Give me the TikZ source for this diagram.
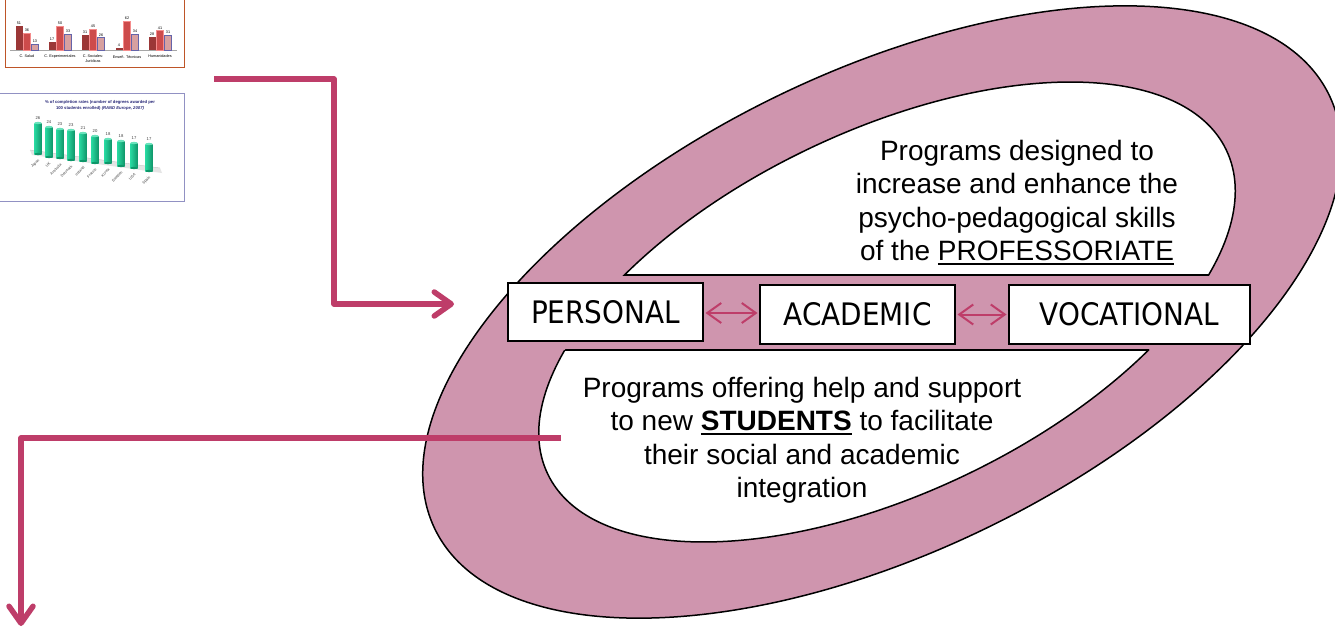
\documentclass[tikz,border=0pt]{standalone}
\usepackage{fontspec}
\setmainfont{Liberation Sans}
\newfontfamily\boxfont[FakeStretch=0.9]{DejaVu Sans}
\usetikzlibrary{arrows.meta,calc}
\newsavebox\myulbox
\newcommand\myul[1]{\sbox\myulbox{#1}\rlap{\rule[-4.5pt]{\wd\myulbox}{1.8pt}}\usebox\myulbox}
\definecolor{ringpink}{RGB}{207,149,174}
\definecolor{linkpink}{RGB}{190,61,105}
\definecolor{chartorange}{RGB}{190,85,40}
\definecolor{chartblue}{RGB}{145,145,195}
\definecolor{bardark}{RGB}{155,55,55}
\definecolor{barred}{RGB}{205,75,75}
\definecolor{barredrim}{RGB}{245,140,140}
\definecolor{barpink}{RGB}{215,160,160}
\definecolor{barpinkrim}{RGB}{100,100,170}
\definecolor{greenA}{RGB}{40,215,160}
\definecolor{greenB}{RGB}{15,150,105}
\definecolor{navy}{RGB}{40,40,120}
\begin{document}
\begin{tikzpicture}[x=1pt,y=-1pt,
  boxnode/.style={draw=black, line width=2pt, fill=white, inner sep=0pt,
    font=\boxfont\fontsize{31}{36}\selectfont},
  ringtext/.style={align=center, inner sep=0pt, font=\fontsize{28}{33.3}\selectfont},
  link/.style={draw=linkpink, line width=5.5pt, line join=round,
    -{Straight Barb[length=17pt,width=24pt,round]}},
  twoway/.style={draw=linkpink, line width=2pt,
    {Straight Barb[length=14pt,width=20pt]}-{Straight Barb[length=14pt,width=20pt]}},
  tiny/.style={inner sep=0pt, font=\fontsize{3.8}{4.4}\selectfont},
  small/.style={inner sep=0pt, font=\fontsize{4.2}{5}\selectfont},
  country/.style={inner sep=0pt, font=\fontsize{3.7}{4}\selectfont},
  chartbox/.style={fill=white, line width=1.3pt, inner sep=0pt}
]
\useasboundingbox (0,0) rectangle (1335,627);

% ---------------- ring ----------------
\def\outerE{[rotate around={25.9:(882,312)}] (882,312) ellipse [x radius=497, y radius=240]}
\def\innerE{[rotate around={25.5:(887,312)}] (887,312) ellipse [x radius=376, y radius=181]}
\path[fill=ringpink, draw=black, line width=1.5pt] \outerE;
\begin{scope}
  \clip (0,0) rectangle (1335,275);
  \path[fill=white, draw=black, line width=1.5pt] \innerE;
\end{scope}
\begin{scope}
  \clip (0,350) rectangle (1335,627);
  \path[fill=white, draw=black, line width=1.5pt] \innerE;
\end{scope}
\begin{scope}
  \clip \innerE;
  \draw[line width=2pt] (0,275) -- (1335,275);
  \draw[line width=2pt] (0,350) -- (1335,350);
\end{scope}

% ---------------- texts ----------------
\node[ringtext, anchor=north] (proftext) at (1017,140)
  {Programs designed to\\increase and enhance the\\psycho-pedagogical skills\\of the \myul{PROFESSORIATE}};
\node[ringtext, anchor=north] (studtext) at (802,377)
  {Programs offering help and support\\to new \myul{\textbf{STUDENTS}} to facilitate\\their social and academic\\integration};

% ---------------- boxes ----------------
\node[boxnode, minimum width=195pt, minimum height=58pt] (personal) at (605.5,312) {PERSONAL};
\node[boxnode, minimum width=195pt, minimum height=59pt] (academic) at (857.5,314.5) {ACADEMIC};
\node[boxnode, minimum width=241pt, minimum height=59pt] (vocational) at (1129.5,314.5) {VOCATIONAL};
\draw[twoway] ($(personal.east)+(1.5,1)$) -- ($(academic.west)+(-1.5,-1.5)$);
\draw[twoway] ($(academic.east)+(1.5,0)$) -- ($(vocational.west)+(-1.5,0)$);

% ---------------- chart 1 ----------------
\node[chartbox, draw=chartorange, minimum width=179pt, minimum height=90pt, anchor=south west] (chartA) at (5,68) {};
\draw[gray!70, line width=0.5pt] (10,50) -- (177,50);
\foreach \c/\a/\b/\d in {27/51/36/13, 60/17/50/33, 93/31/45/26, 127/4/62/34, 160/28/41/31}{
  \fill[bardark] ({\c-11.5},{50-\a*0.47}) rectangle ({\c-4.5},50);
  \path[fill=barred, draw=barredrim, line width=0.6pt] ({\c-3.5},{50-\b*0.47}) rectangle ({\c+3.5},50);
  \path[fill=barpink, draw=barpinkrim, line width=0.6pt] ({\c+4.5},{50-\d*0.47}) rectangle ({\c+11.5},50);
  \node[tiny] at ({\c-8},{47-\a*0.47}) {\a};
  \node[tiny] at ({\c},{47-\b*0.47}) {\b};
  \node[tiny] at ({\c+8},{47-\d*0.47}) {\d};
}
\node[tiny, anchor=north] at (27,55) {C. Salud};
\node[tiny, anchor=north] at (60,55) {C. Experimentales};
\node[tiny, anchor=north, align=center] at (93,55) {C. Sociales-\\Jurídicas};
\node[tiny, anchor=north] at (127,55) {Enseñ. Técnicas};
\node[tiny, anchor=north] at (160,55) {Humanidades};

% ---------------- chart 2 ----------------
\node[chartbox, draw=chartblue, minimum width=186pt, minimum height=108pt, anchor=north west] (chartB) at (-2,93) {};
\node[inner sep=0pt, text=navy, align=center, font=\bfseries\fontsize{4.2}{6}\selectfont] at (100,105)
  {\% of completion rates (number of degrees awarded per\\100 students enrolled) \textit{(RAND Europe, 2007)}};
\fill[gray!20] (30,150) -- (160,168) -- (162,173) -- (32,155) -- cycle;
\draw[gray!45, line width=0.4pt] (30,150) -- (160,168);
\foreach \x/\t/\b/\v/\n in {38/123/154/26/Japan, 49/127/157/24/UK, 60/129/158/23/Australia,
  71/130/160/23/Denmark, 83/133/161/21/Ireland, 95/136/163/20/France, 108/139/163/18/Korea,
  121/141/166/18/Sweden, 134/143/168/17/USA, 149/144/171/17/Spain}{
  \shade[left color=greenA, right color=greenB] ({\x-3.6},\t) rectangle ({\x+3.6},\b);
  \fill[greenB] (\x,\b) ellipse [x radius=3.6, y radius=1.1];
  \fill[greenA!70!white] (\x,\t) ellipse [x radius=3.6, y radius=1.1];
  \node[small, text=black!75] at (\x,{\t-4.5}) {\v};
  \node[country, text=black!75, rotate=45, anchor=east] at ({\x+1},{\b+6}) {\n};
}

% ---------------- connectors ----------------
\coordinate (l1s) at (214,79);
\coordinate (l1e) at (454,304);
\coordinate (l2s) at (561,438);
\coordinate (l2e) at (21,626);
\draw[link] (l1s) -| (334,304) -- (l1e);
\draw[link] (l2s) -| (l2e);
\end{tikzpicture}
\end{document}
